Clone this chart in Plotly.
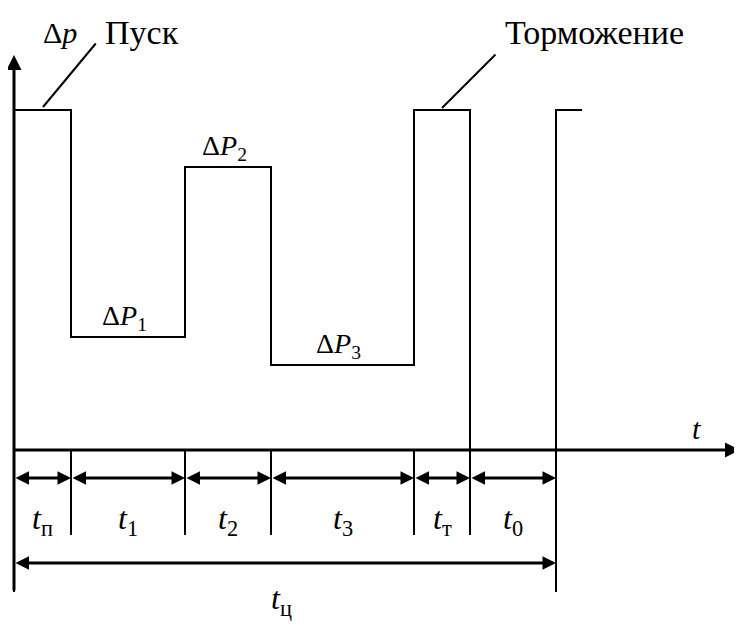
import plotly.graph_objects as go

# durations of the cycle intervals (t_п, t1, t2, t3, t_т, t0)
interval_names = ["<i>t</i><sub>п</sub>", "<i>t</i><sub>1</sub>", "<i>t</i><sub>2</sub>",
                  "<i>t</i><sub>3</sub>", "<i>t</i><sub>т</sub>", "<i>t</i><sub>0</sub>"]
durations = [57, 114, 86, 143, 56, 86]
# loss levels during each interval
levels = [340, 113, 283, 85, 340, 0]
level_labels = [None, "Δ<i>P</i><sub>1</sub>", "Δ<i>P</i><sub>2</sub>", "Δ<i>P</i><sub>3</sub>", None, None]
next_start = 26  # start of next cycle (shown partially)

FONT = "Liberation Serif, Times New Roman, serif"
PAD = 8  # default page body margin
W, H = 742 - PAD, 624 - PAD
X0, Y0 = 14 - PAD, 450 - PAD  # origin pixel inside the figure

bounds = [0]
for d in durations:
    bounds.append(bounds[-1] + d)

xs, ys = [], []
for i, d in enumerate(durations):
    xs += [bounds[i], bounds[i + 1]]
    ys += [levels[i], levels[i]]
xs += [bounds[-1], bounds[-1] + next_start]
ys += [levels[0], levels[0]]

fig = go.Figure()
fig.add_trace(go.Scatter(x=xs, y=ys, mode="lines", line=dict(color="black", width=2), hoverinfo="skip"))

# extension lines below axis
for i, b in enumerate(bounds):
    low = -142 if i in (0, len(bounds) - 1) else -85
    fig.add_trace(go.Scatter(x=[b, b], y=[0, low], mode="lines",
                             line=dict(color="black", width=2), hoverinfo="skip"))

def txt(size):
    return dict(family=FONT, size=size, color="black")

ann = []
# axes arrows
ann.append(dict(x=0, y=395, ax=0, ay=-142, xref="x", yref="y", axref="x", ayref="y",
                showarrow=True, arrowhead=2, arrowsize=1, arrowwidth=3, arrowcolor="black", text=""))
ann.append(dict(x=726, y=0, ax=-2, ay=0, xref="x", yref="y", axref="x", ayref="y",
                showarrow=True, arrowhead=2, arrowsize=1, arrowwidth=3, arrowcolor="black", text=""))
# dimension arrows
for i, d in enumerate(durations):
    ann.append(dict(x=bounds[i + 1], y=-28, ax=bounds[i], ay=-28, xref="x", yref="y", axref="x", ayref="y",
                    showarrow=True, arrowhead=2, startarrowhead=2, arrowside="end+start",
                    arrowsize=0.9, startarrowsize=0.9, arrowwidth=3, arrowcolor="black", text=""))
    ann.append(dict(x=(bounds[i] + bounds[i + 1]) / 2, y=-70, xref="x", yref="y", showarrow=False,
                    text=interval_names[i], font=txt(32)))
    if level_labels[i]:
        ann.append(dict(x=(bounds[i] + bounds[i + 1]) / 2 - 4, y=levels[i] + 20, xref="x", yref="y",
                        showarrow=False, text=level_labels[i], font=txt(28)))
ann.append(dict(x=bounds[-1], y=-113, ax=0, ay=-113, xref="x", yref="y", axref="x", ayref="y",
                showarrow=True, arrowhead=2, startarrowhead=2, arrowside="end+start",
                arrowsize=0.9, startarrowsize=0.9, arrowwidth=3, arrowcolor="black", text=""))
ann.append(dict(x=bounds[-1] / 2 - 4, y=-150, xref="x", yref="y", showarrow=False,
                text="<i>t</i><sub>ц</sub>", font=txt(32)))
# axis labels
ann.append(dict(x=46, y=418, xref="x", yref="y", showarrow=False, text="Δ<i>p</i>", font=txt(30)))
ann.append(dict(x=682, y=22, xref="x", yref="y", showarrow=False, text="<i>t</i>", font=txt(30)))
# leaders
ann.append(dict(x=29, y=343, ax=83, ay=408, xref="x", yref="y", axref="x", ayref="y",
                showarrow=True, arrowhead=0, arrowwidth=2, arrowcolor="black", text=""))
ann.append(dict(x=128, y=418, xref="x", yref="y", showarrow=False, text="Пуск", font=txt(34)))
ann.append(dict(x=428, y=342, ax=483, ay=397, xref="x", yref="y", axref="x", ayref="y",
                showarrow=True, arrowhead=0, arrowwidth=2, arrowcolor="black", text=""))
ann.append(dict(x=580, y=418, xref="x", yref="y", showarrow=False, text="Торможение", font=txt(34)))

fig.update_layout(
    width=W, height=H, margin=dict(l=0, r=0, t=0, b=0),
    paper_bgcolor="white", plot_bgcolor="white", showlegend=False,
    xaxis=dict(range=[-X0, W - X0], visible=False, fixedrange=True),
    yaxis=dict(range=[-(H - Y0), Y0], visible=False, fixedrange=True),
    annotations=ann,
)
fig.write_html("out.html")
